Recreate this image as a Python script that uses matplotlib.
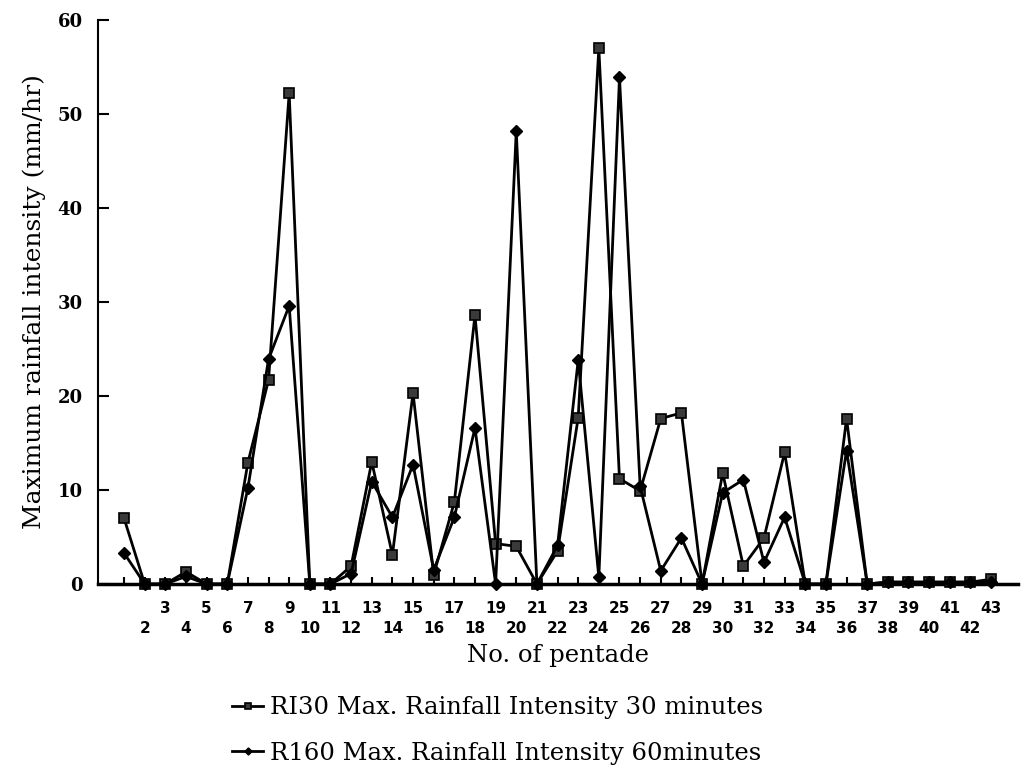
import numpy as np
import matplotlib
matplotlib.use('Agg')
import matplotlib.pyplot as plt
from matplotlib.ticker import FixedLocator, FixedFormatter

# pentade numbers and the two intensity series (mm/hr)
pentade = list(range(1, 44))
ri30 = [7.0, 0, 0, 1.3, 0, 0, 12.9, 21.7, 52.2, 0,
        0, 1.9, 13.0, 3.1, 20.3, 1.0, 8.7, 28.6, 4.3, 4.0,
        0, 3.5, 17.7, 57.0, 11.2, 9.9, 17.6, 18.2, 0, 11.8,
        1.9, 4.9, 14.0, 0, 0, 17.6, 0, 0.2, 0.2, 0.2,
        0.2, 0.2, 0.5]
r160 = [3.3, 0, 0, 0.8, 0, 0, 10.2, 23.9, 29.6, 0,
        0, 1.1, 10.9, 7.1, 12.7, 1.5, 7.1, 16.6, 0, 48.2,
        0, 4.1, 23.8, 0.7, 53.9, 10.4, 1.4, 4.9, 0, 9.7,
        11.1, 2.3, 7.1, 0, 0, 14.2, 0, 0.2, 0.2, 0.2,
        0.2, 0.2, 0.2]

odd_ticks = [p for p in pentade if p % 2 == 1 and p > 1]
even_ticks = [p for p in pentade if p % 2 == 0]

label_ri30 = 'RI30 Max. Rainfall Intensity 30 minutes'
label_r160 = 'R160 Max. Rainfall Intensity 60minutes'

serif = ['DejaVu Serif']

fig = plt.figure(figsize=(10.22, 7.68), dpi=100)
ax = fig.add_axes([0.0959, 0.2396, 0.9001, 0.7344])

l1, = ax.plot(pentade, ri30, color='black', lw=2, marker='s', ms=7.5,
              mfc='#3a3a3a', mec='black', mew=1.2, clip_on=False, zorder=3)
l2, = ax.plot(pentade, r160, color='black', lw=2, marker='D', ms=6,
              mfc='black', mec='black', clip_on=False, zorder=3)

ax.set_xlim(-0.26, 44.3)
ax.set_ylim(0, 60)

for s in ['top', 'right']:
    ax.spines[s].set_visible(False)
ax.spines['left'].set_linewidth(1.5)
ax.spines['bottom'].set_linewidth(2.5)

# y axis
ax.set_yticks(range(0, 61, 10))
ax.tick_params(axis='y', direction='in', length=8, width=1.5, pad=11)
for t in ax.get_yticklabels():
    t.set_fontfamily(serif)
    t.set_fontweight('bold')
    t.set_fontsize(13)

# x axis: odd labels on first row, even on second
ax.xaxis.set_major_locator(FixedLocator(odd_ticks))
ax.xaxis.set_major_formatter(FixedFormatter([str(p) for p in odd_ticks]))
ax.xaxis.set_minor_locator(FixedLocator([1] + even_ticks))
ax.xaxis.set_minor_formatter(FixedFormatter([''] + [str(p) for p in even_ticks]))
ax.tick_params(axis='x', which='both', direction='in', length=5, width=1.5)
ax.tick_params(axis='x', which='major', pad=12.5, labelsize=11)
ax.tick_params(axis='x', which='minor', pad=26.5, labelsize=11)
for t in ax.get_xticklabels(which='both'):
    t.set_fontweight('bold')

ax.set_xlabel('No. of pentade', fontfamily=serif, fontsize=17.5, labelpad=6)
ax.set_ylabel('Maximum rainfall intensity (mm/hr)', fontfamily=serif,
              fontsize=18, labelpad=8)

fig.legend([l1, l2], [label_ri30, label_r160], loc='upper left',
           bbox_to_anchor=(0.206, 0.122), frameon=False,
           prop={'family': serif, 'size': 17.5}, handlelength=1.25,
           handletextpad=0.3, labelspacing=0.92, markerscale=0.6)

plt.savefig('out.png', dpi=100)
plt.close()
